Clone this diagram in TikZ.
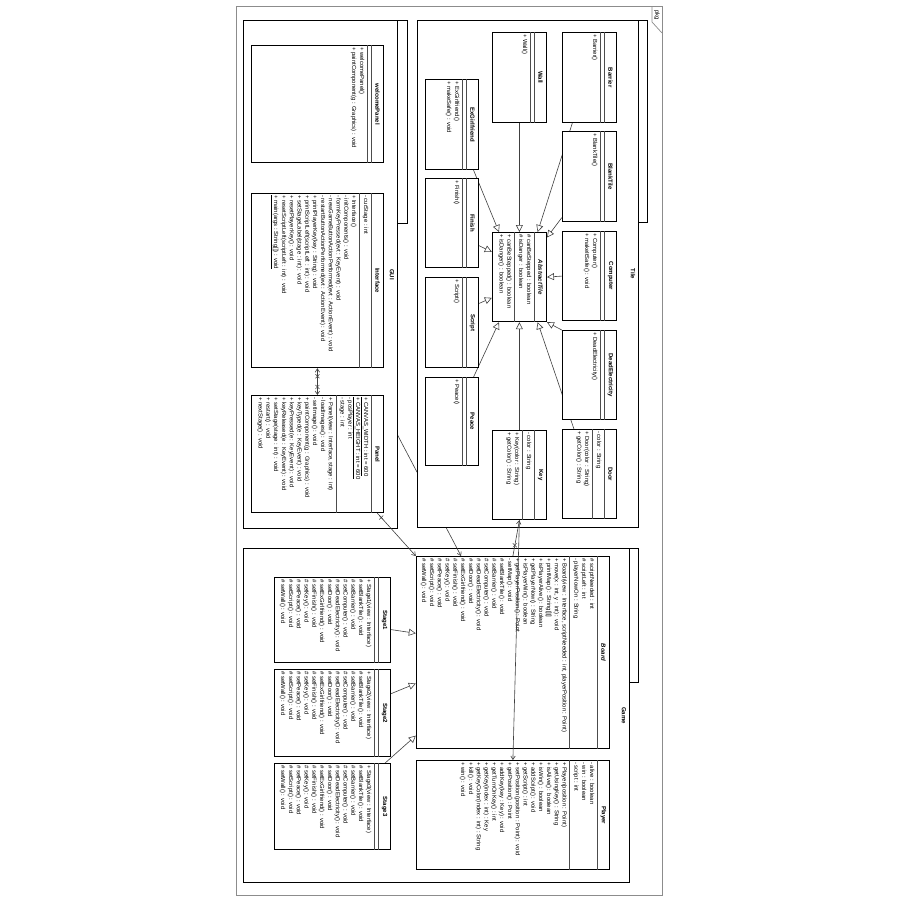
\documentclass[tikz,border=0pt]{standalone}
\usepackage{fontspec}
\setmainfont{Liberation Sans}
\usetikzlibrary{positioning,arrows.meta,calc,shapes.misc}
\pgfdeclarelayer{hidden}
\pgfdeclarelayer{pkglayer}
\pgfdeclarelayer{lines}
\pgfsetlayers{hidden,pkglayer,lines,main}

\newcommand{\umlclass}[8]{%
  \node[classbox, minimum width=#3pt, minimum height=#4pt] (#1) at (#2) {};
  \node[classname] at ($(#1.north)+(0,-6.5)$) {#5};
  \draw[compline] ($(#1.north west)+(0,-13)$) -- ($(#1.north east)+(0,-13)$);
  \node[members] at ($(#1.north west)+(0,-13)$) {#7};
  \draw[compline] ($(#1.north west)+(0,{-17-7.8*#6})$) -- ($(#1.north east)+(0,{-17-7.8*#6})$);
  \node[members] at ($(#1.north west)+(0,{-17-7.8*#6})$) {#8};
}
\newcommand{\stageops}[1]{+ Stage#1(view : Interface)\\ \# setBlankTile() : void\\ \# setBarrier() : void\\
  \# setComputer() : void\\ \# setDeadElectricity() : void\\ \# setDoor() : void\\ \# setExGirlfriend() : void\\
  \# setFinish() : void\\ \# setKey() : void\\ \# setPeace() : void\\ \# setScript() : void\\ \# setWall() : void}

\begin{document}
\begin{tikzpicture}[x=1pt, y=1pt,
    >={Straight Barb[length=3.5pt, width=4.5pt]},
    classbox/.style={draw=black, line width=1.2pt, fill=white, anchor=north west, inner sep=0pt},
    classname/.style={font=\bfseries\fontsize{6}{7}\selectfont, inner sep=0pt},
    members/.style={anchor=north west, align=left, inner xsep=2pt, inner ysep=2.5pt,
                    font=\fontsize{5.9}{7.8}\selectfont},
    compline/.style={draw=black!70, line width=0.5pt},
    package/.style={draw=black, line width=0.9pt, fill=white, anchor=north west, inner sep=0pt},
    pkgname/.style={font=\bfseries\fontsize{6}{7}\selectfont, inner sep=0pt},
    frame/.style={draw=black!45, line width=0.7pt},
    gen/.style={-{Triangle[open, length=7pt, width=7pt]}, draw=black!75, line width=0.6pt},
    assoc/.style={->, draw=black!75, line width=0.6pt},
    xmark/.style={cross out, draw=black!75, minimum size=3.5pt, inner sep=0pt, line width=0.5pt}
]
\useasboundingbox (0,0) rectangle (900,-900);
\begin{scope}[rotate=-90, transform shape]
    \draw[frame] (6,236) -- (895,236) -- (895,662) -- (6,662) -- cycle;
    \draw[frame] (6,652) -- (22,652) -- (33,662);
    \node[font=\fontsize{6}{7}\selectfont, inner sep=0pt] (pkglabel) at (15,657) {pkg};

    \begin{pgfonlayer}{hidden}
    \node[package, minimum width=334pt, minimum height=386pt] (game) at (548,630) {};
    \draw[package] (game.north west) -- ++(0,8) -- ++(134,0) -- ++(0,-8);
    \node[pkgname] at ($(game.north)+(0,-6)$) {Game};
    \end{pgfonlayer}
    \begin{pgfonlayer}{pkglayer}
    \node[package, minimum width=508pt, minimum height=154pt] (gui) at (20,398) {};
    \draw[package] (gui.north west) -- ++(0,9) -- ++(203,0) -- ++(0,-9);
    \node[pkgname] at ($(gui.north)+(0,-6)$) {GUI};
    \node[package, minimum width=507pt, minimum height=221pt] (tile) at (20,639) {};
    \draw[package] (tile.north west) -- ++(0,8) -- ++(202,0) -- ++(0,-8);
    \node[pkgname] at ($(tile.north)+(0,-6)$) {Tile};
    \end{pgfonlayer}

    \umlclass{welcome}{45,384}{117}{132}{welcomePanel}{0}{}{+ welcomePanel()\\ + paintComponent(g : Graphics) : void}
    \umlclass{interface}{193,384}{174}{132}{Interface}{1}{- curStage : int}{+ Interface()\\
        - initComponents() : void\\ - formKeyPressed(evt : KeyEvent) : void\\
        - newGameButtonActionPerformed(evt : ActionEvent) : void\\
        - restartButtonActionPerformed(evt : ActionEvent) : void\\
        + printPlayerKey(key : String) : void\\ + printScriptLeft(scriptLeft : int) : void\\
        + setStageLabel(stage : int) : void\\ + resetPlayerKey() : void\\
        + resetScriptLeft(scriptLeft : int) : void\\ \underline{+ main(args : String[]) : void}}
    \umlclass{panel}{395,384}{117}{132}{Panel}{4}{\underline{+ CANVAS\_WIDTH : int = 600}\\
        \underline{+ CANVAS\_HEIGHT : int = 600}\\ - posPlayer : int\\ - stage : int}{+ Panel(view : Interface, stage : int)\\
        - loadImages() : void\\ - setImage() : void\\ + paintComponent(g : Graphics) : void\\
        + keyTyped(e : KeyEvent) : void\\ + keyPressed(e : KeyEvent) : void\\
        + keyReleased(e : KeyEvent) : void\\ + setStage(stage : int) : void\\
        + restart() : void\\ + nextStage() : void}

    \umlclass{wall}{32,547}{90}{54}{Wall}{0}{}{+ Wall()}
    \umlclass{barrier}{32,617}{90}{54}{Barrier}{0}{}{+ Barrier()}
    \umlclass{exgf}{79,479}{90}{53}{ExGirlfriend}{0}{}{+ ExGirlfriend()\\ + makeSafe() : void}
    \umlclass{blank}{131,617}{90}{54}{BlankTile}{0}{}{+ BlankTile()}
    \umlclass{finish}{178,479}{89}{53}{Finish}{0}{}{+ Finish()}
    \umlclass{abstile}{232,547}{89}{54}{\itshape AbstractTile}{2}{\# canBeStepped : boolean\\ \# isDanger : boolean}{+ canBeStepped() : boolean\\ + isDanger() : boolean}
    \umlclass{computer}{231,617}{89}{54}{Computer}{0}{}{+ Computer()\\ + makeItSafe() : void}
    \umlclass{script}{277,479}{90}{53}{Script}{0}{}{+ Script()}
    \umlclass{deadelec}{330,617}{89}{54}{DeadElectricity}{0}{}{+ DeadElectricity()}
    \umlclass{peace}{377,479}{88}{53}{Peace}{0}{}{+ Peace()}
    \umlclass{key}{430,547}{89}{54}{Key}{1}{- color : String}{+ Key(color : String)\\ + getColor() : String}
    \umlclass{door}{429,617}{89}{54}{Door}{1}{- color : String}{+ Door(color : String)\\ + getColor() : String}

    \umlclass{board}{556,610}{192}{193}{\itshape Board}{3}{\# scriptNeeded : int\\ \# scriptLeft : int\\ - playerNowOn : String}{%
        + Board(view : Interface, scriptNeeded : int, playerPosition : Point)\\
        + move(x : int, y : int) : void\\ + printMap() : String[][]\\ + isPlayerAlive() : boolean\\
        + getPlayerNow() : String\\ + isPlayerWin() : boolean\\ + getPlayerPosition() : Point\\
        - setMap() : void\\ \# setBlankTile() : void\\ \# setBarrier() : void\\ \# setComputer() : void\\
        \# setDeadElectricity() : void\\ \# setDoor() : void\\ \# setExGirlfriend() : void\\
        \# setFinish() : void\\ \# setKey() : void\\ \# setPeace() : void\\ \# setScript() : void\\ \# setWall() : void}
    \umlclass{player}{760,610}{109}{193}{Player}{3}{- alive : boolean\\ - win : boolean\\ - script : int}{%
        + Player(position : Point)\\ + getUsingKey() : String\\ + isAlive() : boolean\\ + isWin() : boolean\\
        + addScript() : void\\ + getScript() : int\\ + setPosition(position : Point) : void\\
        + getPosition() : Point\\ + addKey(key : Key) : void\\ + getTurnOnKey() : int\\
        + getKey(index : int) : Key\\ + getKeyColor(index : int) : String\\ + kill() : void\\ + win() : void}
    \umlclass{stage1}{577,391}{85}{116}{Stage1}{0}{}{\stageops{1}}
    \umlclass{stage2}{669,391}{87}{116}{Stage2}{0}{}{\stageops{2}}
    \umlclass{stage3}{763,391}{86}{116}{Stage3}{0}{}{\stageops{3}}

    \begin{pgfonlayer}{lines}
    \draw[gen] ($(exgf.south east)!0.9!(exgf.north east)$) -- ($(abstile.south west)!0.13!(abstile.north west)$);
    \draw[gen] (wall.east) -- (abstile.west);
    \draw[gen] ($(barrier.south east)!0.19!(barrier.north east)$) -- ($(abstile.south west)!0.83!(abstile.north west)$);
    \draw[gen] ($(blank.south west)!0.95!(blank.south east)$) -- ($(abstile.north west)!0.06!(abstile.north east)$);
    \draw[gen] ($(finish.north west)!0.75!(finish.north east)$) -- ($(abstile.south west)!0.22!(abstile.south east)$);
    \draw[gen] (computer.south) -- (abstile.north);
    \draw[gen] ($(script.north west)!0.29!(script.north east)$) -- ($(abstile.south west)!0.73!(abstile.south east)$);
    \draw[gen] (deadelec.south west) -- (abstile.north east);
    \draw[gen] ($(peace.south west)!0.9!(peace.north west)$) -- ($(abstile.south east)!0.13!(abstile.north east)$);
    \draw[gen] (key.west) -- (abstile.east);
    \draw[gen] ($(door.south west)!0.22!(door.north west)$) -- ($(abstile.south east)!0.83!(abstile.north east)$);

    \draw[gen] ($(stage1.north west)!0.61!(stage1.north east)$) -- ($(board.south west)!0.40!(board.south east)$);
    \draw[gen] ($(stage2.north west)!0.28!(stage2.north east)$) -- ($(board.south west)!0.66!(board.south east)$);
    \draw[gen] ($(stage3.south west)!0.95!(stage3.north west)$) -- ($(board.south west)!0.93!(board.south east)$);

    \draw[assoc, <->] (interface.east) -- node[xmark, pos=0.3] {} node[xmark, pos=0.7] {} (panel.west);
    \draw[assoc] ($(panel.south east)!0.95!(panel.north east)$) -- node[xmark, pos=0.1] {} (board.south west);
    \end{pgfonlayer}
    \begin{pgfonlayer}{hidden}
    \draw[assoc] ($(panel.north west)!0.12!(panel.north east)$) -- ($(board.south west)!0.233!(board.north west)$);
    \end{pgfonlayer}

    \draw[assoc] (board.west) -- node[xmark, pos=0.3] {} (key.east);
    \draw[assoc] (key.east) -- (player.west);
\end{scope}
\end{tikzpicture}
\end{document}
